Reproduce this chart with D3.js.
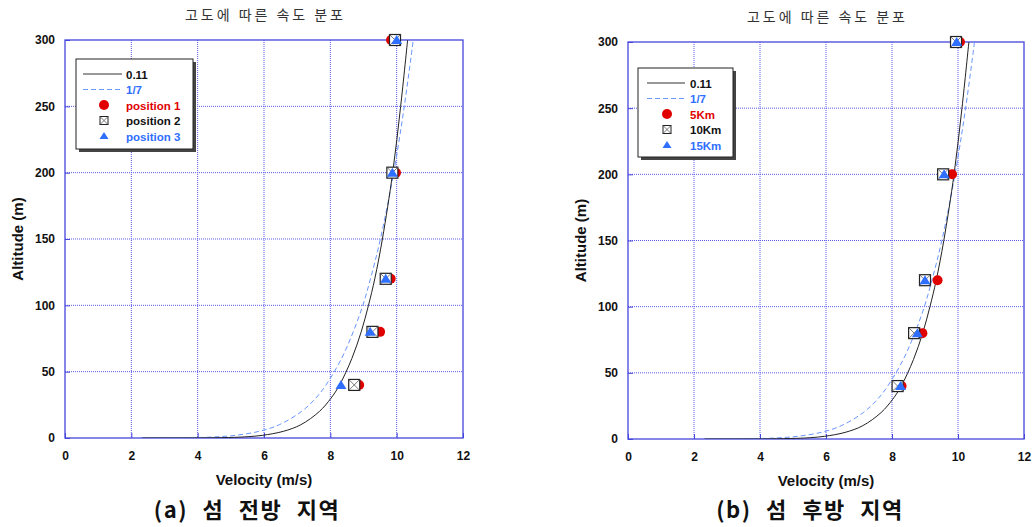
<!DOCTYPE html>
<html>
<head>
<meta charset="utf-8">
<script src="https://cdn.jsdelivr.net/npm/d3@7"></script>
<style>
  body { margin: 0; background: #fff; }
  svg { display: block; }
  .tick text { font-family: "Liberation Sans", Arial, sans-serif; font-size: 12px; font-weight: bold; fill: #111; }
</style>
</head>
<body>
<div id="chart"></div>
<script>
// measured heights (m)
const altitudes = [40, 80, 120, 200, 300];

// (a) front of island
const frontPos1 = [8.87, 9.50, 9.82, 9.98, 9.83];
const frontPos2 = [8.72, 9.27, 9.67, 9.87, 9.95];
const frontPos3 = [8.32, 9.20, 9.67, 9.87, 10.00];

// (b) behind island
const rear5km = [8.29, 8.92, 9.38, 9.82, 10.06];
const rear10km = [8.17, 8.67, 9.00, 9.55, 9.94];
const rear15km = [8.26, 8.77, 9.00, 9.58, 9.96];

// profile curves
const altSolid = [0.0003, 0.001, 0.01, 0.1, 0.5, 1, 2, 5, 10, 20, 30, 40, 60, 80, 100, 120, 150, 200, 250, 300];
const velSolid = [2.32, 2.58, 3.32, 4.28, 5.11, 5.52, 5.95, 6.58, 7.11, 7.67, 8.02, 8.28, 8.65, 8.93, 9.15, 9.34, 9.57, 9.88, 10.12, 10.33];
const altDash = [0.008, 0.1, 0.5, 1, 2, 5, 10, 20, 30, 40, 60, 80, 100, 120, 150, 200, 250, 300];
const velDash = [2.33, 3.35, 4.21, 4.65, 5.13, 5.85, 6.46, 7.13, 7.56, 7.87, 8.34, 8.69, 8.98, 9.21, 9.51, 9.91, 10.23, 10.50];

const xTicks = [0, 2, 4, 6, 8, 10, 12];
const yTicks = [0, 50, 100, 150, 200, 250, 300];

const titleText = "고도에 따른 속도 분포";

const RED = "#e00000", BLUE = "#2f6fff", GRID = "#5a5aee", FRAME = "#4646dd";

let svg = d3.select("#chart").append("svg").attr("width", 1034).attr("height", 527);

function drawPanel(p) {
    let g = svg.append("g").attr("transform", "translate(" + p.left + "," + p.top + ")");
    let xScale = d3.scaleLinear().domain([0, 12]).range([0, p.w]);
    let yScale = d3.scaleLinear().domain([0, 300]).range([p.h, 0]);

    // grid
    g.append("g").selectAll("line").data(xTicks.slice(1, -1)).join("line")
        .attr("x1", d => xScale(d)).attr("x2", d => xScale(d))
        .attr("y1", 0).attr("y2", p.h)
        .attr("stroke", GRID).attr("stroke-dasharray", "1,1");
    g.append("g").selectAll("line").data(yTicks.slice(1, -1)).join("line")
        .attr("y1", d => yScale(d)).attr("y2", d => yScale(d))
        .attr("x1", 0).attr("x2", p.w)
        .attr("stroke", GRID).attr("stroke-dasharray", "1,1");

    // axes (ticks inward)
    let xAxis = g.append("g").attr("transform", "translate(0," + p.h + ")")
        .call(d3.axisBottom(xScale).tickValues(xTicks).tickSizeInner(-5).tickSizeOuter(0).tickPadding(13));
    let yAxis = g.append("g")
        .call(d3.axisLeft(yScale).tickValues(yTicks).tickSizeInner(-5).tickSizeOuter(0).tickPadding(10));
    [xAxis, yAxis].forEach(a => {
        a.select(".domain").remove();
        a.selectAll(".tick line").attr("stroke", FRAME);
    });

    // frame
    g.append("rect").attr("width", p.w).attr("height", p.h)
        .attr("fill", "none").attr("stroke", FRAME).attr("stroke-width", 1.3);

    // clip for curves
    svg.append("clipPath").attr("id", "clip" + p.id)
        .append("rect").attr("width", p.w).attr("height", p.h);
    let plot = g.append("g").attr("clip-path", "url(#clip" + p.id + ")");

    let lineGen = d3.line()
        .x(d => xScale(d[0]))
        .y(d => yScale(d[1]))
        .curve(d3.curveCatmullRom);

    plot.append("path").datum(velDash.map((v, i) => [v, altDash[i]]))
        .attr("d", lineGen).attr("fill", "none")
        .attr("stroke", "#6a96ff").attr("stroke-width", 1).attr("stroke-dasharray", "5,3");
    plot.append("path").datum(velSolid.map((v, i) => [v, altSolid[i]]))
        .attr("d", lineGen).attr("fill", "none")
        .attr("stroke", "#222").attr("stroke-width", 1);

    // markers
    let mk = g.append("g");
    p.series[0].forEach((v, i) => drawCircle(mk, xScale(v), yScale(altitudes[i])));
    p.series[1].forEach((v, i) => drawBox(mk, xScale(v), yScale(altitudes[i])));
    p.series[2].forEach((v, i) => drawTri(mk, xScale(v), yScale(altitudes[i])));

    // labels
    g.append("text").attr("x", p.w / 2).attr("y", p.h + 47)
        .attr("text-anchor", "middle")
        .style("font-family", "Liberation Sans, Arial, sans-serif")
        .style("font-size", "15px").style("font-weight", "bold")
        .attr("fill", "#111")
        .text("Velocity (m/s)");
    g.append("text")
        .attr("transform", "translate(" + (-42) + "," + (p.h / 2) + ") rotate(-90)")
        .attr("text-anchor", "middle")
        .style("font-family", "Liberation Sans, Arial, sans-serif")
        .style("font-size", "15px").style("font-weight", "bold")
        .attr("fill", "#111")
        .text("Altitude (m)");
    svg.append("text").attr("x", p.titleX).attr("y", p.titleY)
        .attr("text-anchor", "middle")
        .attr("textLength", 158).attr("lengthAdjust", "spacing")
        .style("font-family", "Noto Sans CJK KR, sans-serif")
        .style("font-size", "14px").attr("fill", "#333")
        .text(titleText);
    svg.append("text").attr("x", p.capX).attr("y", 518)
        .attr("text-anchor", "middle")
        .style("font-family", "Noto Sans CJK KR, sans-serif")
        .style("font-size", "22px").style("font-weight", "bold")
        .style("letter-spacing", "1.5px").style("word-spacing", "8px")
        .attr("fill", "#111")
        .text(p.caption);

    drawLegend(p);
}

function drawCircle(sel, x, y) {
    sel.append("circle").attr("cx", x).attr("cy", y).attr("r", 5).attr("fill", RED);
}
function drawBox(sel, x, y) {
    let s = 5.5;
    sel.append("rect").attr("x", x - s).attr("y", y - s).attr("width", 2 * s).attr("height", 2 * s)
        .attr("fill", "#fff").attr("stroke", "#222").attr("stroke-width", 1.2);
    sel.append("path").attr("d", "M" + (x - s) + "," + (y - s) + "L" + (x + s) + "," + (y + s) +
        "M" + (x + s) + "," + (y - s) + "L" + (x - s) + "," + (y + s))
        .attr("stroke", "#555").attr("stroke-width", 0.8);
}
function drawTri(sel, x, y) {
    sel.append("path").attr("d", "M" + x + "," + (y - 5) + "L" + (x + 5.5) + "," + (y + 4) + "L" + (x - 5.5) + "," + (y + 4) + "Z")
        .attr("fill", BLUE);
}

function drawLegend(p) {
    let L = p.legend;
    let lg = svg.append("g");
    lg.append("rect").attr("x", L.x + 3).attr("y", L.y + 3).attr("width", L.w).attr("height", L.h).attr("fill", "#444");
    lg.append("rect").attr("x", L.x).attr("y", L.y).attr("width", L.w).attr("height", L.h)
        .attr("fill", "#fff").attr("stroke", "#222").attr("stroke-width", 1);
    let rows = [
        { text: "0.11", color: "#111", kind: "solid" },
        { text: "1/7", color: BLUE, kind: "dash" },
        { text: p.names[0], color: RED, kind: "circle" },
        { text: p.names[1], color: "#111", kind: "box" },
        { text: p.names[2], color: BLUE, kind: "tri" }
    ];
    rows.forEach((r, i) => {
        let y = L.y + 15 + i * 15.5;
        if (r.kind == "solid")
            lg.append("line").attr("x1", L.lx1).attr("x2", L.lx2).attr("y1", y).attr("y2", y).attr("stroke", "#333");
        if (r.kind == "dash")
            lg.append("line").attr("x1", L.lx1).attr("x2", L.lx2).attr("y1", y).attr("y2", y)
                .attr("stroke", "#6a96ff").attr("stroke-dasharray", "5,3");
        if (r.kind == "circle") drawCircle(lg, L.mx, y);
        if (r.kind == "box") {
            lg.append("rect").attr("x", L.mx - 4).attr("y", y - 4).attr("width", 8).attr("height", 8)
                .attr("fill", "#fff").attr("stroke", "#222");
            lg.append("path").attr("d", "M" + (L.mx - 4) + "," + (y - 4) + "L" + (L.mx + 4) + "," + (y + 4) +
                "M" + (L.mx + 4) + "," + (y - 4) + "L" + (L.mx - 4) + "," + (y + 4)).attr("stroke", "#555").attr("stroke-width", 0.8);
        }
        if (r.kind == "tri")
            lg.append("path").attr("d", "M" + L.mx + "," + (y - 4) + "L" + (L.mx + 4.5) + "," + (y + 3) + "L" + (L.mx - 4.5) + "," + (y + 3) + "Z")
                .attr("fill", BLUE);
        lg.append("text").attr("x", L.tx).attr("y", y + 4.5)
            .style("font-family", "Liberation Sans, Arial, sans-serif")
            .style("font-size", "11.5px").style("font-weight", "bold")
            .attr("fill", r.color).text(r.text);
    });
}

drawPanel({
    id: "a", left: 65, top: 40, w: 398, h: 398,
    series: [frontPos1, frontPos2, frontPos3],
    names: ["position 1", "position 2", "position 3"],
    titleX: 264, titleY: 20, capX: 247, caption: "(a) 섬 전방 지역",
    legend: { x: 76, y: 59, w: 117, h: 90, lx1: 83, lx2: 122, tx: 126, mx: 104 }
});
drawPanel({
    id: "b", left: 628, top: 42, w: 396, h: 397,
    series: [rear5km, rear10km, rear15km],
    names: ["5Km", "10Km", "15Km"],
    titleX: 826, titleY: 22, capX: 810, caption: "(b) 섬 후방 지역",
    legend: { x: 638, y: 68, w: 95, h: 89, lx1: 647, lx2: 685, tx: 690, mx: 667 }
});
</script>
</body>
</html>
